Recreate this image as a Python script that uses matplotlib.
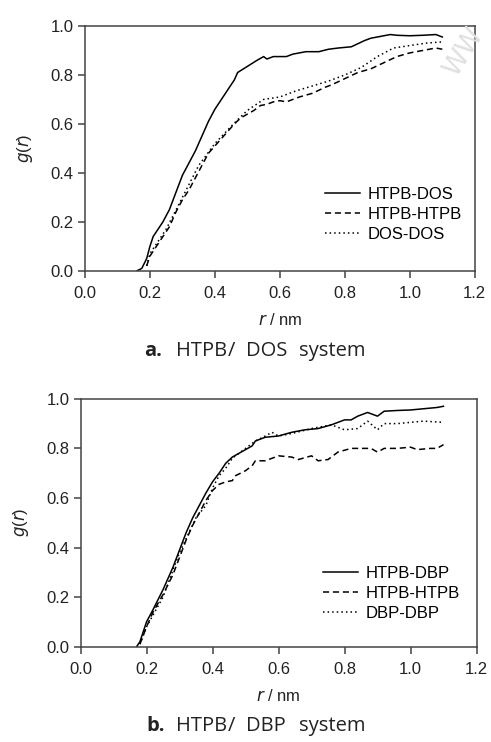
import matplotlib
matplotlib.use("Agg")
import matplotlib.pyplot as plt

# ---- Panel a: HTPB/DOS ----
a_htpb_dos_x = [0.16, 0.175, 0.19, 0.20, 0.21, 0.22, 0.24, 0.26, 0.28, 0.30, 0.32, 0.34, 0.36, 0.38,
                0.40, 0.42, 0.44, 0.46, 0.47, 0.50, 0.53, 0.55, 0.56, 0.58, 0.62, 0.64, 0.68, 0.72,
                0.75, 0.78, 0.82, 0.86, 0.88, 0.92, 0.94, 0.96, 1.00, 1.04, 1.08, 1.10]
a_htpb_dos_y = [0.0, 0.01, 0.05, 0.10, 0.14, 0.16, 0.20, 0.25, 0.32, 0.39, 0.44, 0.49, 0.55, 0.61,
                0.66, 0.70, 0.74, 0.78, 0.81, 0.835, 0.86, 0.875, 0.865, 0.875, 0.875, 0.885, 0.895, 0.895,
                0.905, 0.91, 0.915, 0.94, 0.95, 0.96, 0.965, 0.962, 0.96, 0.962, 0.965, 0.955]

a_htpb_htpb_x = [0.19, 0.20, 0.22, 0.24, 0.26, 0.28, 0.30, 0.32, 0.34, 0.36, 0.38, 0.40, 0.42, 0.44,
                 0.46, 0.48, 0.50, 0.52, 0.54, 0.56, 0.58, 0.60, 0.62, 0.64, 0.66, 0.70, 0.74, 0.76,
                 0.80, 0.84, 0.88, 0.92, 0.96, 1.00, 1.04, 1.08, 1.10]
a_htpb_htpb_y = [0.02, 0.06, 0.10, 0.14, 0.18, 0.24, 0.29, 0.33, 0.38, 0.43, 0.48, 0.51, 0.54, 0.57,
                 0.60, 0.625, 0.64, 0.655, 0.675, 0.68, 0.69, 0.695, 0.69, 0.70, 0.71, 0.725, 0.75, 0.76,
                 0.785, 0.81, 0.825, 0.85, 0.875, 0.89, 0.90, 0.91, 0.905]

a_dos_dos_x = [0.19, 0.20, 0.25, 0.30, 0.35, 0.40, 0.45, 0.48, 0.50, 0.55, 0.60, 0.65, 0.70, 0.75,
               0.80, 0.85, 0.90, 0.95, 1.00, 1.05, 1.10]
a_dos_dos_y = [0.02, 0.07, 0.17, 0.30, 0.43, 0.52, 0.59, 0.63, 0.655, 0.70, 0.71, 0.735, 0.755, 0.775,
               0.80, 0.83, 0.875, 0.91, 0.92, 0.93, 0.935]

# ---- Panel b: HTPB/DBP ----
b_htpb_dbp_x = [0.17, 0.18, 0.20, 0.22, 0.25, 0.28, 0.30, 0.32, 0.34, 0.36, 0.38, 0.40, 0.42, 0.44,
                0.46, 0.48, 0.50, 0.52, 0.53, 0.56, 0.60, 0.64, 0.68, 0.72, 0.76, 0.80, 0.82, 0.84,
                0.87, 0.90, 0.92, 0.96, 1.00, 1.04, 1.08, 1.10]
b_htpb_dbp_y = [0.0, 0.02, 0.10, 0.15, 0.23, 0.32, 0.39, 0.46, 0.52, 0.57, 0.62, 0.665, 0.70, 0.74,
                0.765, 0.78, 0.795, 0.81, 0.83, 0.845, 0.85, 0.865, 0.875, 0.88, 0.895, 0.915, 0.915, 0.93,
                0.945, 0.93, 0.95, 0.953, 0.955, 0.96, 0.965, 0.97]

b_htpb_htpb_x = [0.18, 0.20, 0.22, 0.25, 0.28, 0.30, 0.32, 0.34, 0.36, 0.38, 0.40, 0.42, 0.44, 0.46,
                 0.47, 0.50, 0.52, 0.53, 0.56, 0.60, 0.64, 0.66, 0.70, 0.72, 0.75, 0.78, 0.82, 0.86,
                 0.88, 0.90, 0.92, 0.96, 1.00, 1.02, 1.06, 1.08, 1.10]
b_htpb_htpb_y = [0.01, 0.08, 0.14, 0.21, 0.29, 0.36, 0.43, 0.49, 0.54, 0.59, 0.63, 0.655, 0.665, 0.67,
                 0.69, 0.71, 0.73, 0.75, 0.75, 0.77, 0.765, 0.755, 0.77, 0.75, 0.755, 0.785, 0.80, 0.80,
                 0.80, 0.785, 0.80, 0.80, 0.805, 0.795, 0.80, 0.80, 0.815]

b_dbp_dbp_x = [0.18, 0.20, 0.25, 0.30, 0.35, 0.38, 0.40, 0.42, 0.44, 0.46, 0.50, 0.53, 0.56, 0.58,
               0.60, 0.64, 0.70, 0.76, 0.80, 0.84, 0.87, 0.90, 0.92, 0.96, 1.00, 1.04, 1.10]
b_dbp_dbp_y = [0.01, 0.08, 0.20, 0.38, 0.52, 0.57, 0.64, 0.69, 0.72, 0.76, 0.80, 0.83, 0.85, 0.865,
               0.85, 0.86, 0.88, 0.895, 0.875, 0.88, 0.91, 0.875, 0.90, 0.90, 0.905, 0.91, 0.905]

x_ticks = [0.0, 0.2, 0.4, 0.6, 0.8, 1.0, 1.2]
y_ticks = [0.0, 0.2, 0.4, 0.6, 0.8, 1.0]

W, H = 491.0, 742.0

# caption words: (text, left px, weight)
panels = [
    dict(pos=[0.173, 0.635, 0.794, 0.330],
         series=[(a_htpb_dos_x, a_htpb_dos_y, "HTPB-DOS", "-"),
                 (a_htpb_htpb_x, a_htpb_htpb_y, "HTPB-HTPB", (0, (4, 2.5))),
                 (a_dos_dos_x, a_dos_dos_y, "DOS-DOS", (0, (1, 2)))],
         caption=[("a.", 144, "bold"), ("HTPB", 176, "normal"), ("/", 228, "normal"),
                  ("DOS", 246, "normal"), ("system", 299, "normal")],
         cap_base=356, leg_anchor=(0.615, 0.343)),
    dict(pos=[0.164, 0.1285, 0.8065, 0.334],
         series=[(b_htpb_dbp_x, b_htpb_dbp_y, "HTPB-DBP", "-"),
                 (b_htpb_htpb_x, b_htpb_htpb_y, "HTPB-HTPB", (0, (4, 2.5))),
                 (b_dbp_dbp_x, b_dbp_dbp_y, "DBP-DBP", (0, (1, 2)))],
         caption=[("b.", 146, "bold"), ("HTPB", 176, "normal"), ("/", 228, "normal"),
                  ("DBP", 246, "normal"), ("system", 299, "normal")],
         cap_base=731, leg_anchor=(0.612, 0.326)),
]

fig = plt.figure(figsize=(4.91, 7.42), dpi=100)
tick_font = "Liberation Sans"
ink = "#222222"
fs = 12
cap_fs = 14.5

for p in panels:
    ax = fig.add_axes(p["pos"])
    for xs, ys, lab, ls in p["series"]:
        ax.plot(xs, ys, color="black", linestyle=ls, linewidth=1.1, label=lab)
    ax.set_xlim(0, 1.2)
    ax.set_ylim(0, 1.0)
    ax.set_xticks(x_ticks)
    ax.set_yticks(y_ticks)
    ax.set_xticklabels([f"{v:.1f}" for v in x_ticks], fontsize=fs, family=tick_font, color=ink)
    ax.set_yticklabels([f"{v:.1f}" for v in y_ticks], fontsize=fs, family=tick_font, color=ink)
    ax.tick_params(axis="x", direction="out", length=5, width=1.1, pad=6, color="#444444")
    ax.tick_params(axis="y", direction="out", length=5, width=1.1, pad=3, color="#444444")
    for s in ax.spines.values():
        s.set_linewidth(1.1)
        s.set_color("#444444")
    ax.set_xlabel(r"$\mathit{r}$ / nm", fontsize=fs, family=tick_font, labelpad=8, color=ink)
    ax.set_ylabel(r"$\mathit{g}$($\mathit{r}$)", fontsize=fs, family=tick_font, labelpad=11, color=ink)
    ax.legend(loc="upper left", bbox_to_anchor=p["leg_anchor"], frameon=False,
              borderaxespad=0, borderpad=0,
              prop=dict(family=tick_font, size=fs), handlelength=2.1,
              handletextpad=0.45, labelspacing=0.3)
    for txt, l, wt in p["caption"]:
        fig.text(l / W, 1 - p["cap_base"] / H, txt, ha="left", va="baseline",
                 fontsize=cap_fs, family="Open Sans", weight=wt, color=ink)

fig.text(0.945, 0.93, "WW", rotation=58, color="#e0e0e0", fontsize=19,
         family="DejaVu Sans", ha="center", va="center")

fig.savefig("out.png", dpi=100)
